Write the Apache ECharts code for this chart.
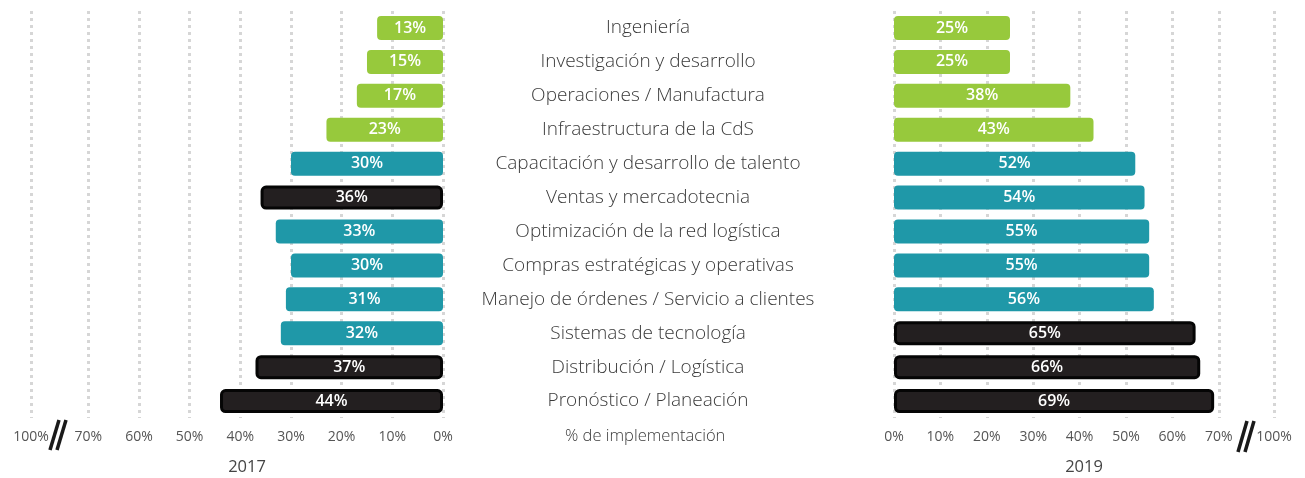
<!DOCTYPE html>
<html>
<head>
<meta charset="utf-8">
<script src="https://cdn.jsdelivr.net/npm/echarts@6/dist/echarts.min.js"></script>
<style>
  html, body { margin: 0; padding: 0; background: #fff; }
  #chart { width: 1305px; height: 478px; }
</style>
</head>
<body>
<div id="chart"></div>
<script>
// Áreas de la cadena de suministro, de arriba hacia abajo
const categories = [
  'Ingeniería',
  'Investigación y desarrollo',
  'Operaciones / Manufactura',
  'Infraestructura de la CdS',
  'Capacitación y desarrollo de talento',
  'Ventas y mercadotecnia',
  'Optimización de la red logística',
  'Compras estratégicas y operativas',
  'Manejo de órdenes / Servicio a clientes',
  'Sistemas de tecnología',
  'Distribución / Logística',
  'Pronóstico / Planeación'
];

// % de implementación por año
const values2017 = [13, 15, 17, 23, 30, 36, 33, 30, 31, 32, 37, 44];
const values2019 = [25, 25, 38, 43, 52, 54, 55, 55, 56, 65, 66, 69];

// grupo de color de cada barra: g = verde, t = turquesa, k = negro
const groups2017 = ['g', 'g', 'g', 'g', 't', 'k', 't', 't', 't', 't', 'k', 'k'];
const groups2019 = ['g', 'g', 'g', 'g', 't', 't', 't', 't', 't', 'k', 'k', 'k'];

// marcas del eje hasta 70%; después del corte el eje termina en 100%
const tickValues = [0, 10, 20, 30, 40, 50, 60, 70];
const tickLabels = ['0%', '10%', '20%', '30%', '40%', '50%', '60%', '70%'];
const endLabel = '100%';
// posición del extremo cortado (100%) en cada panel
const axisEnd2017 = 81.3;
const axisEnd2019 = 81.9;

const styles = {
  g: { color: '#97c93c', borderRadius: 4 },
  t: { color: '#1f98a8', borderRadius: 4 },
  k: { color: '#231f20', borderRadius: 4, borderColor: '#050505', borderWidth: 3 }
};

const FONT = '"Open Sans", "Noto Sans", sans-serif';

function toItems(vals, groups) {
  return vals.map((v, i) => ({ value: v, itemStyle: styles[groups[i]] }));
}

function valueAxis(gridIndex, inverse, end, name, namePad) {
  const ticks = tickValues.concat([end]);
  return {
    type: 'value',
    gridIndex: gridIndex,
    inverse: inverse,
    min: 0,
    max: end,
    name: name,
    nameLocation: 'middle',
    nameGap: 41,
    nameTextStyle: { color: '#444', fontSize: 16.5, fontFamily: FONT, padding: namePad },
    axisLine: { show: false },
    axisTick: { show: false, customValues: ticks },
    axisLabel: {
      color: '#555', fontSize: 14, fontFamily: FONT, margin: 12,
      customValues: ticks,
      formatter: function (v) {
        if (Math.abs(v - end) < 0.01) return endLabel;
        const i = tickValues.indexOf(Math.round(v));
        return i >= 0 ? tickLabels[i] : '';
      }
    },
    splitLine: {
      show: true,
      lineStyle: { color: '#d6d6d6', width: 3, type: [3, 4] }
    }
  };
}

const chart = echarts.init(document.getElementById('chart'), null, { renderer: 'canvas' });

const barLabel = {
  show: true, position: 'inside', formatter: '{c}%',
  color: '#fff', fontWeight: 600, fontSize: 16, fontFamily: FONT
};

chart.setOption({
  animation: false,
  backgroundColor: '#ffffff',
  grid: [
    { left: 31, width: 412, top: 11, height: 407, containLabel: false, outerBoundsMode: 'none' },
    { left: 894, width: 380, top: 11, height: 407, containLabel: false, outerBoundsMode: 'none' }
  ],
  xAxis: [
    valueAxis(0, true, axisEnd2017, '2017', [0, 0, 0, 20]),
    valueAxis(1, false, axisEnd2019, '2019', [0, 0, 0, 0])
  ],
  yAxis: [
    {
      type: 'category', gridIndex: 0, data: categories, inverse: true,
      axisLine: { show: false }, axisTick: { show: false }, axisLabel: { show: false }
    },
    {
      type: 'category', gridIndex: 1, data: categories, inverse: true,
      axisLine: { show: false }, axisTick: { show: false },
      axisLabel: {
        show: true, align: 'center', margin: 246,
        color: '#3a3a3a', fontSize: 19, fontWeight: 300, fontFamily: FONT
      }
    }
  ],
  series: [
    {
      type: 'bar', xAxisIndex: 0, yAxisIndex: 0, barWidth: 24,
      data: toItems(values2017, groups2017),
      label: barLabel
    },
    {
      type: 'bar', xAxisIndex: 1, yAxisIndex: 1, barWidth: 24,
      data: toItems(values2019, groups2019),
      label: barLabel
    }
  ],
  graphic: [
    {
      type: 'text', left: 565, top: 428, z: 10,
      style: { text: '% de implementación', fill: '#3a3a3a', fontSize: 16.5, fontWeight: 300, fontFamily: FONT }
    },
    // corte del eje izquierdo
    { type: 'line', shape: { x1: 50, y1: 450, x2: 59, y2: 420 }, style: { stroke: '#1a1a1a', lineWidth: 3.5 } },
    { type: 'line', shape: { x1: 57, y1: 450, x2: 66, y2: 420 }, style: { stroke: '#1a1a1a', lineWidth: 3.5 } },
    // corte del eje derecho
    { type: 'line', shape: { x1: 1238, y1: 452, x2: 1247, y2: 421 }, style: { stroke: '#1a1a1a', lineWidth: 3.5 } },
    { type: 'line', shape: { x1: 1245, y1: 452, x2: 1254, y2: 421 }, style: { stroke: '#1a1a1a', lineWidth: 3.5 } }
  ]
});
</script>
</body>
</html>
